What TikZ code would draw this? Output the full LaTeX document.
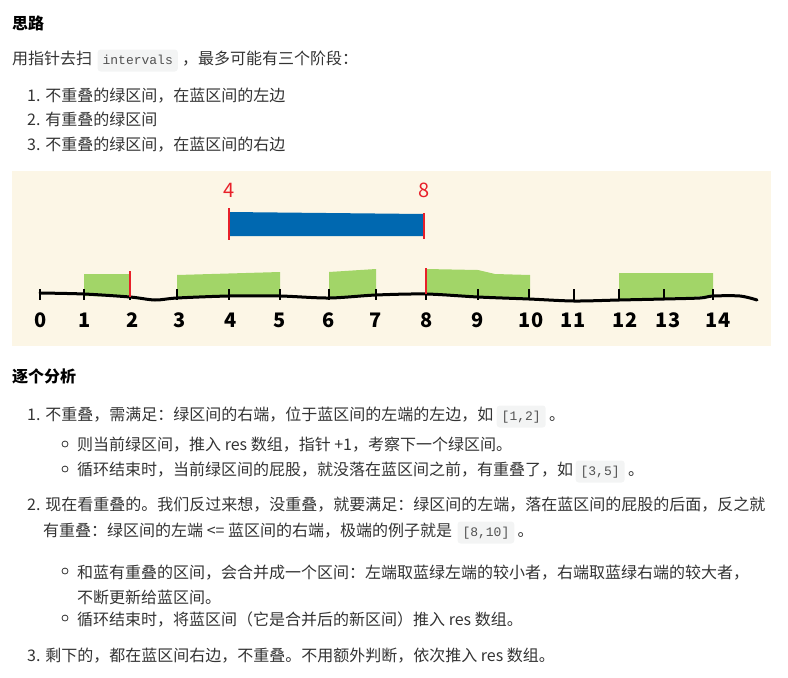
\documentclass[tikz,border=0pt]{standalone}
\usepackage{fontspec}
\setmainfont{Noto Sans CJK SC}
\newfontfamily\codefont{Liberation Mono}
\usetikzlibrary{positioning}
\definecolor{bodytext}{HTML}{333333}
\definecolor{cream}{HTML}{FCF6E6}
\definecolor{codebg}{HTML}{F3F4F4}
\definecolor{grn}{HTML}{A2D568}
\definecolor{blu}{HTML}{0068B0}
\definecolor{rd}{HTML}{E8202A}

\begin{document}
\begin{tikzpicture}[x=1pt,y=-1pt,
  heading/.style={anchor=base west,inner sep=0pt,text=black,font=\fontsize{16}{18}\selectfont\bfseries},
  para/.style={anchor=base west,inner sep=0pt,text=bodytext,font=\fontsize{16}{18}\selectfont},
  code/.style={anchor=base west,fill=codebg,rounded corners=3pt,inner xsep=5pt,inner ysep=4.5pt,
    text height=10pt,text depth=3pt,text=bodytext!85,font=\codefont\fontsize{13}{15}\selectfont},
  dot/.style={circle,draw=bodytext,line width=0.8pt,minimum size=6pt,inner sep=0pt},
  tickline/.style={line width=1.6pt,black},
  redmark/.style={line width=2.4pt,rd}]
  \useasboundingbox (0,0) rectangle (788,678);

  % first part of the text
  \node[heading] (h1) at (12,29) {思路};
  \node[para] (p1) at (12,64) {用指针去扫};
  \node[code,base right=5pt of p1] (c0) {intervals};
  \node[para,base right=4pt of c0] (p1b) {，最多可能有三个阶段：};
  \node[para] (l1) at (27,101) {1. 不重叠的绿区间，在蓝区间的左边};
  \node[para] (l2) at (27,125) {2. 有重叠的绿区间};
  \node[para] (l3) at (27,150) {3. 不重叠的绿区间，在蓝区间的右边};

  % the sketch
  \fill[cream] (12,171) rectangle (771,346);
  \fill[grn] (84,296) -- (84,274) -- (130,274) -- (130,297) -- cycle;
  \fill[grn] (177,298) -- (177,275) -- (280,272) -- (280,296) -- cycle;
  \fill[grn] (329,298) -- (329,272) -- (376,269) -- (376,295) -- cycle;
  \fill[grn] (426,294) -- (426,269) -- (478,270) -- (495,274) -- (530,275) -- (530,299) -- cycle;
  \fill[grn] (619,300) -- (619,273) -- (713,273) -- (713,296) -- cycle;
  \fill[blu] (229,212) -- (424,214) -- (424,236) -- (229,236) -- cycle;
  \draw[line width=3pt,line cap=round] plot[smooth] coordinates {(40,293) (84,294) (130,297) (155,300) (177,298)
    (229,296) (280,296) (329,298) (376,295) (426,294) (478,297) (529,299) (574,301) (619,300) (664,299)
    (700,298) (713,296) (740,296) (757,300)};
  \foreach \n/\x/\lx in {0/40/41,1/84/85,2/130/133,3/177/180,4/229/231,5/280/280,6/329/329,7/376/376,
      8/426/427,9/478/478,10/529/531,11/574/573,12/619/625,13/664/668,14/713/718} {
    \draw[tickline] (\x,289) -- (\x,300);
    \node[font=\fontsize{20}{22}\selectfont\bfseries,inner sep=0pt] (n\n) at (\lx,320) {\n};
  }
  \draw[redmark] (130,271) -- (130,297);
  \draw[redmark] (426,268) -- (426,294);
  \draw[redmark] (229,208) -- (229,240);
  \draw[redmark] (424,213) -- (424,239);
  \node[text=rd,font=\fontsize{20}{22}\selectfont,inner sep=0pt] (lo) at (229,190) {4};
  \node[text=rd,font=\fontsize{20}{22}\selectfont,inner sep=0pt] (hi) at (424,190) {8};

  % second part of the text
  \node[heading] (h2) at (12,382) {逐个分析};
  \node[para] (s1) at (27,420) {1. 不重叠，需满足：绿区间的右端，位于蓝区间的左端的左边，如};
  \node[code,base right=3pt of s1] (c1) {[1,2]};
  \node[para,base right=3pt of c1] (s1e) {。};
  \node[dot] (d1) at (65,444) {};
  \node[para] (s1a) at (77,450) {则当前绿区间，推入 res 数组，指针 +1，考察下一个绿区间。};
  \node[dot] (d2) at (65,469) {};
  \node[para] (s1b) at (77,475) {循环结束时，当前绿区间的屁股，就没落在蓝区间之前，有重叠了，如};
  \node[code,base right=2pt of s1b] (c2) {[3,5]};
  \node[para,base right=3pt of c2] (s1f) {。};

  \node[para] (s2) at (27,510) {2. 现在看重叠的。我们反过来想，没重叠，就要满足：绿区间的左端，落在蓝区间的屁股的后面，反之就};
  \node[para] (s2a) at (43,536) {有重叠：绿区间的左端 <= 蓝区间的右端，极端的例子就是};
  \node[code,base right=5pt of s2a] (c3) {[8,10]};
  \node[para,base right=3pt of c3] (s2e) {。};
  \node[dot] (d3) at (65,571) {};
  \node[para] (s2b) at (77,578) {和蓝有重叠的区间，会合并成一个区间：左端取蓝绿左端的较小者，右端取蓝绿右端的较大者，};
  \node[para] (s2c) at (77,603) {不断更新给蓝区间。};
  \node[dot] (d4) at (65,618) {};
  \node[para] (s2d) at (77,625) {循环结束时，将蓝区间（它是合并后的新区间）推入 res 数组。};

  \node[para] (s3) at (27,661) {3. 剩下的，都在蓝区间右边，不重叠。不用额外判断，依次推入 res 数组。};
\end{tikzpicture}
\end{document}
